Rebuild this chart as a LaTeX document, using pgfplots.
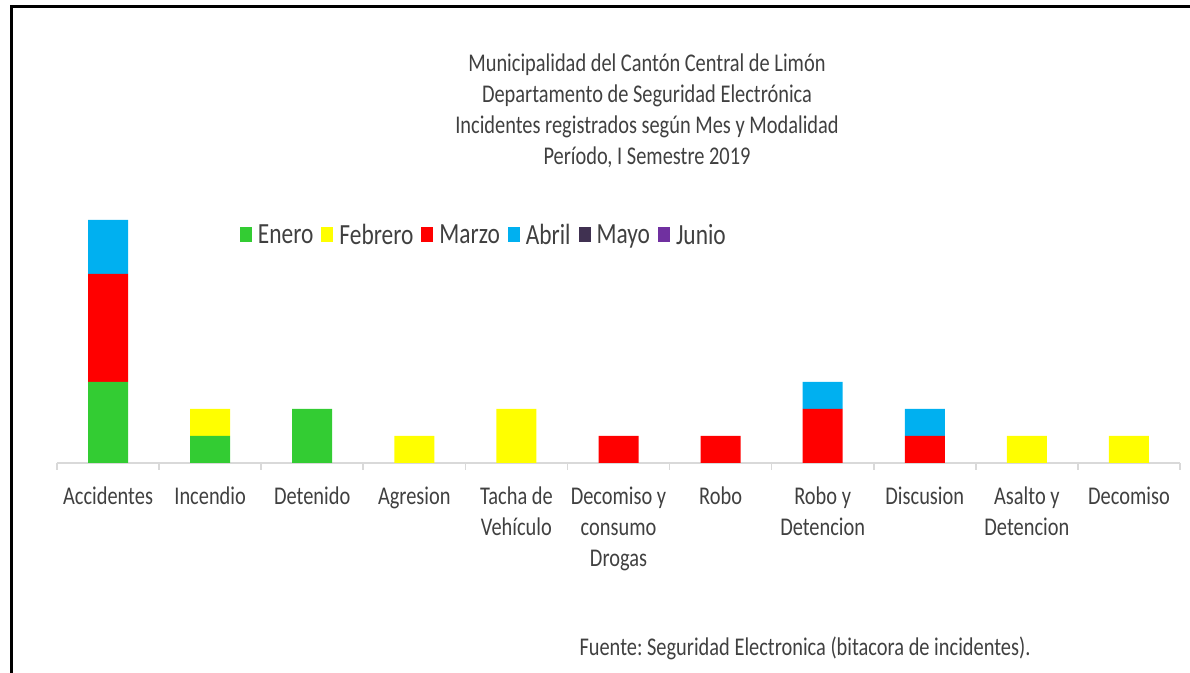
\documentclass[border=0pt]{standalone}
\usepackage{fontspec}
\setmainfont{Carlito}
\usepackage{graphicx}
\usepackage{pgfplots}
\pgfplotsset{compat=1.18}

\definecolor{ene}{HTML}{33CC33}
\definecolor{feb}{HTML}{FFFF00}
\definecolor{mar}{HTML}{FF0000}
\definecolor{abr}{HTML}{00B0F0}
\definecolor{may}{HTML}{403151}
\definecolor{jun}{HTML}{7030A0}
\definecolor{txt}{HTML}{404040}
\definecolor{axgray}{HTML}{D9D9D9}

% text in the reference is a bit taller than wide
\newcommand{\vs}[1]{\scalebox{1}[1.25]{#1}}
\newcommand{\cat}[1]{\vs{\begin{tabular}{@{}c@{}}#1\end{tabular}}}
\newcommand{\leg}[1]{\hspace{1pt}\vs{#1}\hspace{4pt}}

\begin{document}
\frenchspacing
\begin{tikzpicture}
\path[use as bounding box] (0,0) rectangle (595pt,336.5pt);
\draw[line width=1.5pt] (5.5pt,0) -- (5.5pt,333pt) -- (595pt,333pt);

\node[text=txt, font=\fontsize{10.2}{12.4}\selectfont, inner sep=0pt] at (323.5pt,280.5pt)
  {\cat{Municipalidad del Cantón Central de Limón\\
        Departamento de Seguridad Electrónica\\
        Incidentes registrados según Mes y Modalidad\\
        Período, I Semestre 2019}};

\begin{axis}[
    at={(28.5pt,105pt)}, anchor=south west,
    scale only axis,
    width=561.5pt, height=121.5pt,
    ybar stacked,
    bar width=20pt,
    xmin=-0.5, xmax=10.5,
    ymin=0, ymax=9,
    clip=false,
    axis y line=none,
    axis x line=bottom,
    axis line style={-, draw=axgray, line width=0.8pt},
    xtick={0,...,10},
    minor xtick={-0.5,0.5,...,10.5},
    major tick length=0pt,
    minor tick length=3.5pt,
    tick align=outside,
    minor tick style={draw=axgray, line width=0.8pt},
    xticklabels={
      {\cat{Accidentes}},
      {\cat{Incendio}},
      {\cat{Detenido}},
      {\cat{Agresion}},
      {\cat{Tacha de\\Vehículo}},
      {\cat{Decomiso y\\consumo\\Drogas}},
      {\cat{Robo}},
      {\cat{Robo y\\Detencion}},
      {\cat{Discusion}},
      {\cat{Asalto y\\Detencion}},
      {\cat{Decomiso}}},
    xticklabel style={anchor=north, inner sep=0pt, yshift=-9.5pt,
      text=txt, font=\fontsize{10.2}{12.4}\selectfont},
    legend columns=-1,
    legend style={at={(0.381,0.934)}, anchor=center, draw=none, fill=none,
      text=txt, font=\fontsize{11.7}{13.5}\selectfont,
      /tikz/every even column/.append style={column sep=2pt}},
    legend image code/.code={\fill[#1,/tikz/.cd,draw=none] (0pt,-3pt) rectangle (6pt,4.5pt);},
  ]
  \addplot[fill=ene, draw=none] coordinates {(0,3) (1,1) (2,2) (3,0) (4,0) (5,0) (6,0) (7,0) (8,0) (9,0) (10,0)};
  \addlegendentry{\leg{Enero}}
  \addplot[fill=feb, draw=none] coordinates {(0,0) (1,1) (2,0) (3,1) (4,2) (5,0) (6,0) (7,0) (8,0) (9,1) (10,1)};
  \addlegendentry{\leg{Febrero}}
  \addplot[fill=mar, draw=none] coordinates {(0,4) (1,0) (2,0) (3,0) (4,0) (5,1) (6,1) (7,2) (8,1) (9,0) (10,0)};
  \addlegendentry{\leg{Marzo}}
  \addplot[fill=abr, draw=none] coordinates {(0,2) (1,0) (2,0) (3,0) (4,0) (5,0) (6,0) (7,1) (8,1) (9,0) (10,0)};
  \addlegendentry{\leg{Abril}}
  \addplot[fill=may, draw=none] coordinates {(0,0) (1,0) (2,0) (3,0) (4,0) (5,0) (6,0) (7,0) (8,0) (9,0) (10,0)};
  \addlegendentry{\leg{Mayo}}
  \addplot[fill=jun, draw=none] coordinates {(0,0) (1,0) (2,0) (3,0) (4,0) (5,0) (6,0) (7,0) (8,0) (9,0) (10,0)};
  \addlegendentry{\hspace{1pt}\vs{Junio}}
\end{axis}

\node[text=txt, font=\fontsize{10.2}{12.4}\selectfont, inner sep=0pt] at (402.5pt,12.5pt)
  {\vs{Fuente: Seguridad Electronica (bitacora de incidentes).}};
\end{tikzpicture}
\end{document}
